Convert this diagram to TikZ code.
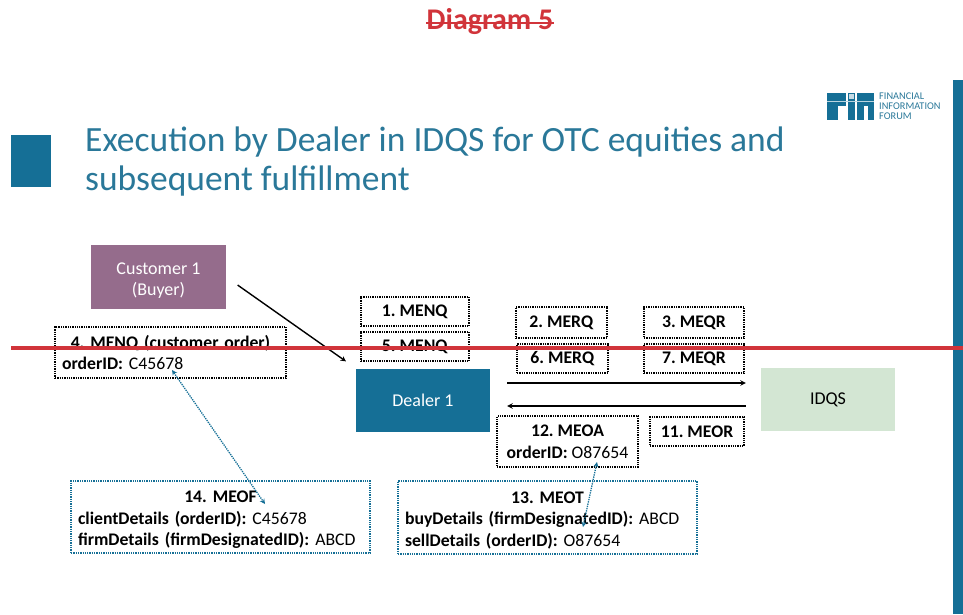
\documentclass[tikz,border=0pt]{standalone}
\usepackage{fontspec}
\setmainfont{Carlito}
\frenchspacing
\definecolor{fifblue}{HTML}{156F96}
\definecolor{titleblue}{HTML}{2A7899}
\definecolor{buyerpurple}{HTML}{956C8C}
\definecolor{idqsgreen}{HTML}{D3E6D3}
\definecolor{strikered}{HTML}{D1343A}
\tikzset{
  party/.style={minimum width=134pt,minimum height=63pt,font=\fontsize{18}{21}\selectfont,align=center,inner sep=0pt},
  msgbox/.style={draw=black,line width=1.3pt,densely dotted,font=\fontsize{17.7}{21.5}\selectfont,align=center,inner sep=0pt},
  linkbox/.style={msgbox,draw=fifblue},
  flow/.style={->,>=stealth,line width=1.4pt},
  link/.style={<->,>=stealth,draw=fifblue,line width=1.3pt,densely dotted},
}
\newcommand{\boxhead}[1]{\makebox[\linewidth][c]{\textbf{#1}}\\}
\newcommand{\lifted}[1]{\rule{0pt}{#1}}
\begin{document}
\begin{tikzpicture}[x=1pt,y=-1pt]
\useasboundingbox (0,0) rectangle (963,614);
% page furniture
\fill[fifblue] (953,80) rectangle (963,614);
\fill[fifblue] (11,135) rectangle (51,187);
\node (heading) [text=strikered,font=\fontsize{30}{34}\selectfont\bfseries] at (490,22) {Diagram 5};
\node (slidetitle) [text=titleblue,anchor=north west,align=left,inner sep=0pt,font=\fontsize{35.5}{38.5}\selectfont] at (85,127) {Execution by Dealer in IDQS for OTC equities and\\subsequent fulfillment};
% logo
\fill[fifblue] (827,93) rectangle (846,106);
\fill[fifblue] (827,106) rectangle (838,120);
\fill[fifblue] (848,93) rectangle (855,120);
\fill[fifblue] (857,93) rectangle (874,106);
\fill[fifblue] (857,106) rectangle (864,120);
\fill[fifblue] (868,106) rectangle (874,120);
\fill[white!75!fifblue] (849,94) rectangle (854,99);
\draw[white!70!fifblue,line width=1pt] (827,101) -- (874,101);
\node (logotext) [text=titleblue,anchor=west,align=left,inner sep=0pt,font=\fontsize{10.3}{10}\selectfont] at (879,106.5) {FINANCIAL\\INFORMATION\\FORUM};
% parties
\node (customer) [party,fill=buyerpurple,text=white,minimum width=135pt,minimum height=64pt] at (158.5,277) {\lifted{19pt}Customer 1\\(Buyer)};
\node (dealer) [party,fill=fifblue,text=white] at (423,400) {Dealer 1};
\node (idqs) [party,fill=idqsgreen,text=black] at (828,399.5) {IDQS};
% message boxes
\node (menqa) [msgbox,minimum width=108pt,minimum height=29pt] at (415,311.5) {\textbf{1. MENQ}};
\node (menqb) [msgbox,minimum width=108pt,minimum height=29pt] at (415,346.5) {\textbf{5. MENQ}};
\node (merqa) [msgbox,minimum width=91pt,minimum height=31pt] at (561.5,322.5) {\textbf{2. MERQ}};
\node (meqra) [msgbox,minimum width=100pt,minimum height=31pt] at (694,322.5) {\textbf{3. MEQR}};
\node (merqb) [msgbox,minimum width=91pt,minimum height=29pt] at (562.5,358.5) {\textbf{6. MERQ}};
\node (meqrb) [msgbox,minimum width=100pt,minimum height=29pt] at (694,358.5) {\textbf{7. MEQR}};
\node (meor) [msgbox,minimum width=94pt,minimum height=29pt] at (697,431.5) {\textbf{11. MEOR}};
\node (menoc) [msgbox,minimum width=231pt,minimum height=51pt,text width=217pt,align=left] at (170.5,352.5) {\boxhead{4. MENQ (customer order)}\textbf{orderID:} C45678};
\node (meoa) [msgbox,minimum width=141pt,minimum height=51pt] at (567.5,441.5) {\textbf{12. MEOA}\\\textbf{orderID:} O87654};
\node (meof) [linkbox,minimum width=299pt,minimum height=72pt,text width=285pt,align=left] at (220.5,517) {\lifted{17pt}\boxhead{14. MEOF}\textbf{clientDetails (orderID):} C45678\\\textbf{firmDetails (firmDesignatedID):} ABCD};
\node (meot) [linkbox,minimum width=299pt,minimum height=73pt,text width=285pt,align=left] at (547.5,517.5) {\lifted{17pt}\boxhead{13. MEOT}\textbf{buyDetails (firmDesignatedID):} ABCD\\\textbf{sellDetails (orderID):} O87654};
% flows
\draw[flow,shorten <=14pt,shorten >=12pt] (customer.east) -- (dealer.north west);
\draw[flow,shorten <=17pt,shorten >=15pt] ([yshift=17pt]dealer.east) -- ([yshift=16.5pt]idqs.west);
\draw[flow,shorten <=15pt,shorten >=17pt] ([yshift=-6.5pt]idqs.west) -- ([yshift=-6pt]dealer.east);
% order id links
\coordinate (orderin) at (172,370);
\coordinate (orderout) at (265,504);
\coordinate (quotein) at (597,462);
\coordinate (quoteout) at (583,527);
\draw[link] (orderin) -- (orderout);
\draw[link] (quotein) -- (quoteout);
% strike through
\draw[strikered,line width=2.5pt,shorten <=3pt,shorten >=3pt] ([yshift=-1pt]heading.west) -- ([yshift=-1pt]heading.east);
\draw[strikered,line width=4.5pt] (11,348) -- (963,348);
\end{tikzpicture}
\end{document}
